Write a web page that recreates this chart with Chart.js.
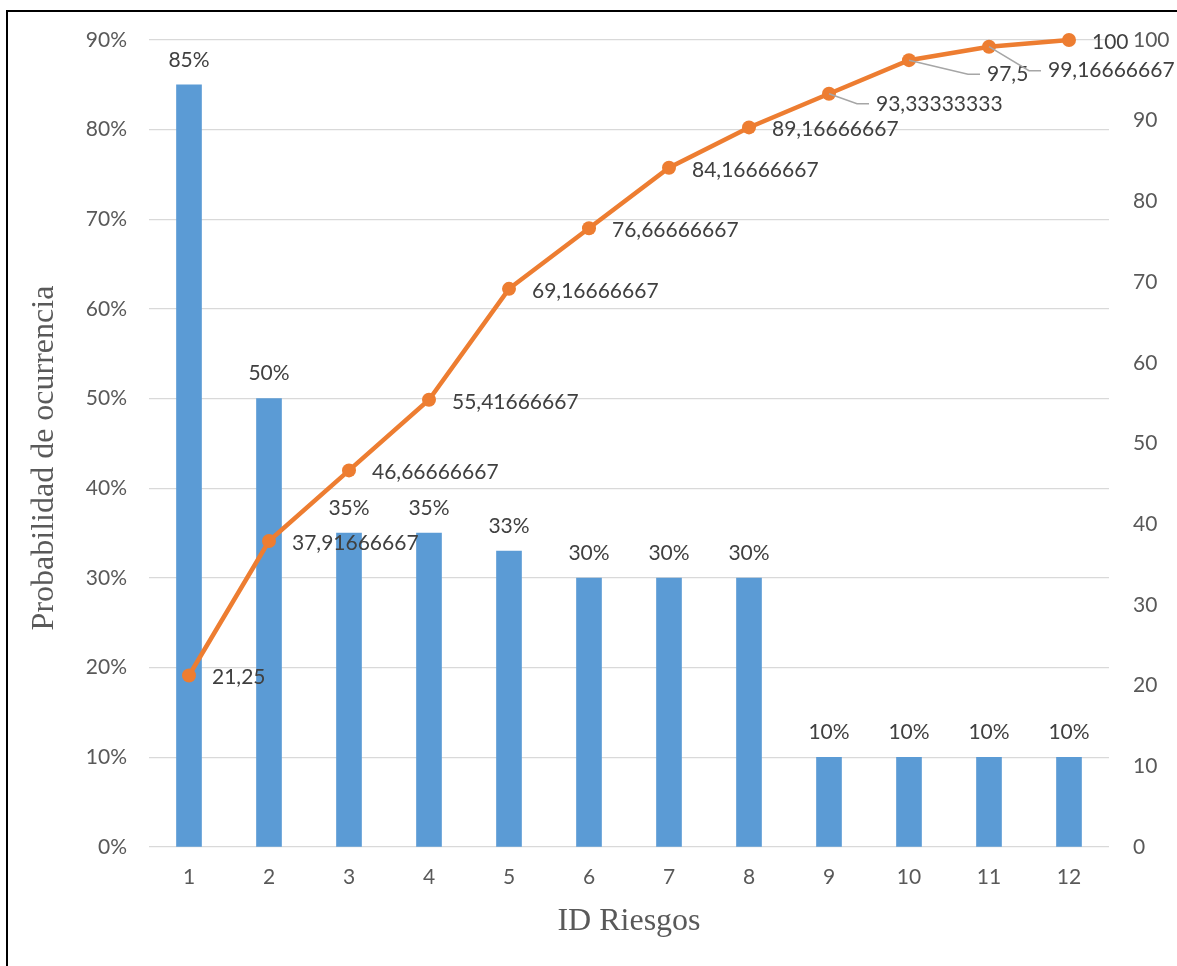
<!DOCTYPE html>
<html>
<head>
<meta charset="utf-8">
<title>Probabilidad de ocurrencia por riesgo</title>
<script src="https://cdn.jsdelivr.net/npm/chart.js@4.4.1/dist/chart.umd.min.js"></script>
<style>
  html, body { margin: 0; padding: 0; background: #fff; }
  #wrap { position: relative; width: 1177px; height: 966px; overflow: hidden; }
  #frame { position: absolute; left: 6px; top: 10px; width: 1400px; height: 1200px;
           border-left: 2px solid #000; border-top: 2px solid #000; box-sizing: border-box; }
  #c { position: absolute; left: 0; top: 0; }
</style>
</head>
<body>
<div id="wrap">
  <div id="frame"></div>
  <canvas id="c" width="1177" height="966"></canvas>
</div>
<script>
// Riesgos identificados
const riesgos = ['1', '2', '3', '4', '5', '6', '7', '8', '9', '10', '11', '12'];
// Probabilidad de ocurrencia de cada riesgo (%)
const probabilidad = [85, 50, 35, 35, 33, 30, 30, 30, 10, 10, 10, 10];
// Porcentaje acumulado (eje derecho)
const acumulado = [21.25, 37.91666667, 46.66666667, 55.41666667, 69.16666667, 76.66666667,
                   84.16666667, 89.16666667, 93.33333333, 97.5, 99.16666667, 100];
// Rangos de los ejes
const ejeIzq = { min: 0, max: 90, paso: 10 };
const ejeDer = { min: 0, max: 100, paso: 10 };

const FUENTE = 'Lato, "Open Sans", sans-serif';
const SERIF = '"Liberation Serif", "DejaVu Serif", serif';
const GRIS_TEXTO = '#595959';
const GRIS_ETIQUETA = '#404040';

const formatoDecimal = v => String(v).replace('.', ',');

// Etiquetas de datos de barras y línea, con líneas guía donde se desplazan
const etiquetasPlugin = {
  id: 'etiquetas',
  afterDatasetsDraw(chart, args, opts) {
    const ctx = chart.ctx;
    ctx.save();
    ctx.font = '21px ' + FUENTE;
    ctx.fillStyle = GRIS_ETIQUETA;

    const barras = chart.getDatasetMeta(0).data;
    ctx.textAlign = 'center';
    ctx.textBaseline = 'middle';
    barras.forEach((b, i) => {
      ctx.fillText(probabilidad[i] + '%', b.x, b.y - 25);
    });

    const puntos = chart.getDatasetMeta(1).data;
    ctx.textAlign = 'left';
    puntos.forEach((p, i) => {
      const off = opts.desplazamientos[i] || opts.normal;
      const lx = p.x + off[0];
      const ly = p.y + off[1];
      if (off[2]) {
        ctx.save();
        ctx.strokeStyle = '#a6a6a6';
        ctx.lineWidth = 1.5;
        ctx.beginPath();
        ctx.moveTo(p.x, p.y);
        ctx.lineTo(lx - 19, ly);
        ctx.lineTo(lx - 7, ly);
        ctx.stroke();
        ctx.restore();
      }
      ctx.fillText(formatoDecimal(acumulado[i]), lx, ly);
    });
    ctx.restore();
  }
};

// Títulos de los ejes
const titulosPlugin = {
  id: 'titulos',
  afterDraw(chart) {
    const ctx = chart.ctx;
    const area = chart.chartArea;
    ctx.save();
    ctx.font = '32px ' + SERIF;
    ctx.fillStyle = GRIS_TEXTO;
    ctx.textAlign = 'center';
    ctx.textBaseline = 'alphabetic';
    ctx.fillText('ID Riesgos', (area.left + area.right) / 2, 930);
    ctx.translate(53, 458);
    ctx.rotate(-Math.PI / 2);
    ctx.fillText('Probabilidad de ocurrencia', 0, 0);
    ctx.restore();
  }
};

new Chart(document.getElementById('c'), {
  data: {
    labels: riesgos,
    datasets: [
      {
        type: 'bar',
        label: 'Probabilidad',
        data: probabilidad,
        yAxisID: 'y',
        backgroundColor: '#5B9BD5',
        borderWidth: 0,
        barThickness: 25,
        order: 2
      },
      {
        type: 'line',
        label: 'Acumulado',
        data: acumulado,
        yAxisID: 'y2',
        borderColor: '#ED7D31',
        backgroundColor: '#ED7D31',
        borderWidth: 4.5,
        pointRadius: 7,
        pointBorderWidth: 0,
        pointBackgroundColor: '#ED7D31',
        tension: 0,
        clip: false,
        order: 1
      }
    ]
  },
  options: {
    responsive: false,
    animation: false,
    events: [],
    layout: { padding: { top: 40, left: 0, right: 0, bottom: 0 } },
    plugins: {
      legend: { display: false },
      tooltip: { enabled: false },
      etiquetas: {
        normal: [23, 2],
        desplazamientos: {
          8: [47, 10, true],
          9: [78, 14, true],
          10: [59, 24, true]
        }
      }
    },
    scales: {
      x: {
        offset: true,
        grid: { display: false, drawTicks: false },
        border: { display: false },
        ticks: { color: GRIS_TEXTO, font: { family: FUENTE, size: 21 }, padding: 18 },
        afterFit(s) { s.height = 119; }
      },
      y: {
        position: 'left',
        min: ejeIzq.min,
        max: ejeIzq.max,
        grid: { color: '#d9d9d9', lineWidth: 1.3, drawTicks: false },
        border: { display: false },
        ticks: {
          stepSize: ejeIzq.paso,
          color: GRIS_TEXTO,
          font: { family: FUENTE, size: 21 },
          padding: 22,
          callback: v => v + '%'
        },
        afterFit(s) { s.width = 149; }
      },
      y2: {
        position: 'right',
        min: ejeDer.min,
        max: ejeDer.max,
        grid: { display: false, drawTicks: false },
        border: { display: false },
        ticks: {
          stepSize: ejeDer.paso,
          color: GRIS_TEXTO,
          font: { family: FUENTE, size: 21 },
          padding: 24
        },
        afterFit(s) { s.width = 68; }
      }
    }
  },
  plugins: [etiquetasPlugin, titulosPlugin]
});
</script>
</body>
</html>
